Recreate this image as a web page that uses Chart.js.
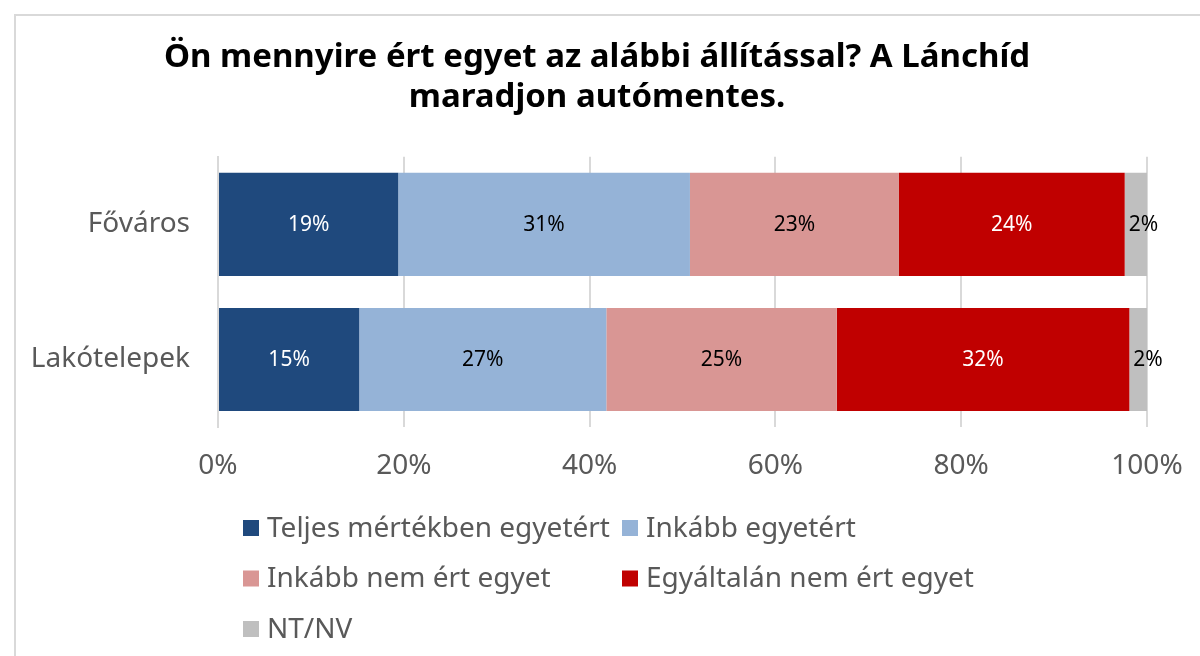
<!DOCTYPE html>
<html>
<head>
<meta charset="utf-8">
<script src="https://cdn.jsdelivr.net/npm/chart.js@4"></script>
<style>
  html, body { margin: 0; padding: 0; background: #fff; }
  #frame { position: absolute; left: 14px; top: 14px; width: 1300px; height: 700px; border: 2px solid #d9d9d9; }
  #c { position: absolute; left: 0; top: 0; }
</style>
</head>
<body>
<div id="frame"></div>
<canvas id="c" width="1200" height="656"></canvas>
<script>
const categories = ['Főváros', 'Lakótelepek'];
const seriesNames = ['Teljes mértékben egyetért', 'Inkább egyetért', 'Inkább nem ért egyet', 'Egyáltalán nem ért egyet', 'NT/NV'];
const teljes = [19.4, 15.2];
const inkabb = [31.4, 26.6];
const inkabbNem = [22.5, 24.8];
const egyaltalan = [24.3, 31.5];
const ntnv = [2.4, 1.9];
const xTicks = [0, 20, 40, 60, 80, 100];

const colors = ['#1f497d', '#95b3d7', '#d99694', '#c00000', '#bfbfbf'];
const labelColors = ['#ffffff', '#000000', '#000000', '#ffffff', '#000000'];
const sans = '"Noto Sans", "Open Sans", sans-serif';

const seriesValues = [teljes, inkabb, inkabbNem, egyaltalan, ntnv];

// value labels inside the segments (left-aligned when the segment is too narrow)
const barLabels = {
    id: 'barLabels',
    afterDatasetsDraw(chart) {
        const { ctx } = chart;
        ctx.save();
        ctx.font = '21px ' + sans;
        ctx.textBaseline = 'middle';
        chart.data.datasets.forEach((ds, i) => {
            chart.getDatasetMeta(i).data.forEach((bar, j) => {
                const { x, y, base } = bar.getProps(['x', 'y', 'base'], true);
                const text = Math.round(ds.data[j]) + '%';
                const w = ctx.measureText(text).width;
                ctx.fillStyle = labelColors[i];
                if (x - base < w + 6) {
                    ctx.textAlign = 'left';
                    ctx.fillText(text, base + 4, y + 1);
                } else {
                    ctx.textAlign = 'center';
                    ctx.fillText(text, (x + base) / 2, y + 1);
                }
            });
        });
        ctx.restore();
    }
};

// two-column legend under the axis
const gridLegend = {
    id: 'gridLegend',
    afterDraw(chart) {
        const { ctx } = chart;
        const top = chart.scales.x.bottom + 39;
        ctx.save();
        ctx.font = '28px ' + sans;
        ctx.textBaseline = 'middle';
        ctx.textAlign = 'left';
        chart.data.datasets.forEach((ds, i) => {
            const x = 243 + (i % 2) * 379;
            const y = top + Math.floor(i / 2) * 50.5;
            ctx.fillStyle = ds.backgroundColor;
            ctx.fillRect(x, y - 8, 16, 16);
            ctx.fillStyle = '#595959';
            ctx.fillText(ds.label, x + 24, y + 1);
        });
        ctx.restore();
    }
};

new Chart(document.getElementById('c'), {
    type: 'bar',
    data: {
        labels: categories,
        datasets: seriesNames.map((name, i) => ({
            label: name,
            data: seriesValues[i],
            backgroundColor: colors[i],
            borderWidth: 0,
            barPercentage: 0.763,
            categoryPercentage: 1
        }))
    },
    options: {
        indexAxis: 'y',
        responsive: false,
        devicePixelRatio: 1,
        animation: false,
        layout: { padding: { left: 47, right: 53, top: 0, bottom: 167 } },
        scales: {
            x: {
                stacked: true,
                min: 0,
                max: 100,
                afterBuildTicks(scale) { scale.ticks = xTicks.map(v => ({ value: v })); },
                afterFit(scale) {
                    scale.height = 62;
                    scale.paddingLeft = 0;
                    scale.paddingRight = 0;
                },
                grid: { color: '#d9d9d9', lineWidth: 2, drawTicks: false },
                border: { display: false },
                ticks: {
                    padding: 22,
                    color: '#595959',
                    font: { size: 28, family: sans },
                    callback: v => v + '%'
                }
            },
            y: {
                stacked: true,
                afterFit(scale) { scale.width = 171; },
                // let the long category label run past the axis box instead of clipping it
                afterUpdate(scale) { scale._computeLabelArea = () => undefined; },
                grid: { display: false, drawTicks: false },
                border: { display: true, color: '#d9d9d9', width: 2 },
                ticks: {
                    padding: 28,
                    color: '#595959',
                    font: { size: 28, family: sans }
                }
            }
        },
        plugins: {
            legend: { display: false },
            tooltip: { enabled: false },
            title: {
                display: true,
                text: ['Ön mennyire ért egyet az alábbi állítással? A Lánchíd', 'maradjon autómentes.'],
                color: '#000000',
                font: { size: 33, weight: 'bold', family: sans, lineHeight: 1.21 },
                padding: { top: 38, bottom: 39 }
            }
        }
    },
    plugins: [barLabels, gridLegend]
});
</script>
</body>
</html>
